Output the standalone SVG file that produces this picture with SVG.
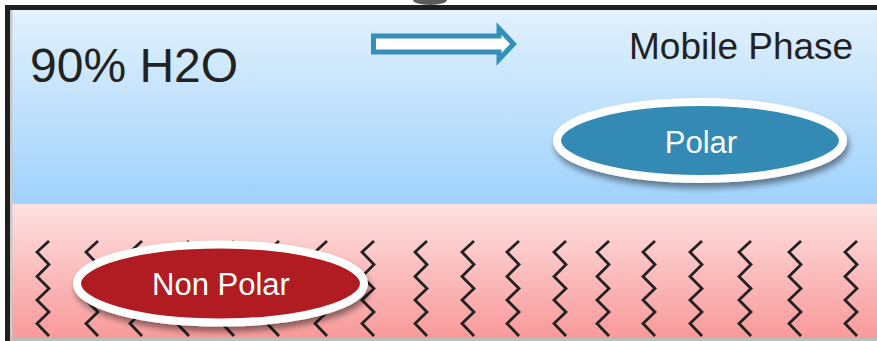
<svg xmlns="http://www.w3.org/2000/svg" width="877" height="341" viewBox="0 0 877 341">
  <defs>
    <linearGradient id="gBlue" x1="0" y1="0" x2="0" y2="1">
      <stop offset="0" stop-color="#e2f1fd"/>
      <stop offset="1" stop-color="#9fd2fc"/>
    </linearGradient>
    <linearGradient id="gPink" x1="0" y1="0" x2="0" y2="1">
      <stop offset="0" stop-color="#fde1e1"/>
      <stop offset="1" stop-color="#f99a9a"/>
    </linearGradient>
    <filter id="shadow" x="-20%" y="-30%" width="140%" height="170%">
      <feGaussianBlur in="SourceAlpha" stdDeviation="3"/>
      <feOffset dx="2" dy="5" result="b"/>
      <feComponentTransfer><feFuncA type="linear" slope="0.45"/></feComponentTransfer>
      <feMerge><feMergeNode/><feMergeNode in="SourceGraphic"/></feMerge>
    </filter>
    <path id="zz" d="M12,241 L0,252 L12,264.5 L0,276.5 L12,288.5 L0,300 L12,312 L0,323.5 L12,336"/>
  </defs>
  <style>
    .txt { font-family: "Liberation Sans", Arial, sans-serif; fill: #222; }
    .lbl { font-family: "Liberation Sans", Arial, sans-serif; fill: #fff; font-size: 31px; text-anchor: middle; }
    .zig { fill: none; stroke: #222; stroke-width: 2.8; stroke-linejoin: miter; }
    .ell { stroke: #fff; stroke-width: 8; }
  </style>

  <rect x="0" y="0" width="877" height="341" fill="#fff"/>
  <ellipse cx="430" cy="0" rx="17" ry="5" fill="#5a5a5a"/>

  <!-- phases -->
  <rect x="10" y="10" width="867" height="194" fill="url(#gBlue)"/>
  <rect x="10" y="204" width="867" height="134" fill="url(#gPink)"/>
  <rect x="10" y="10" width="2.5" height="328" fill="#c9c9c9"/>
  <rect x="5" y="338" width="872" height="3" fill="#bdbdbd"/>
  <rect x="5" y="5" width="872" height="5" fill="#1f1f1f"/>
  <rect x="5" y="5" width="5" height="336" fill="#1f1f1f"/>

  <g id="label-h2o"><text class="txt" x="30" y="82" font-size="48">90% H2O</text></g>
  <g id="label-mobile"><text class="txt" x="629" y="59" font-size="37">Mobile Phase</text></g>

  <g id="flow-arrow">
    <path d="M373.5,36 H499 V28.5 L513.5,44 L499,59.5 V52 H373.5 Z" fill="#fff" stroke="#3390bb" stroke-width="5" stroke-linejoin="miter"/>
  </g>

  <g id="chains">
    <use href="#zz" class="zig" x="37"/>
    <use href="#zz" class="zig" x="86"/>
    <use href="#zz" class="zig" x="130"/>
    <use href="#zz" class="zig" x="177"/>
    <use href="#zz" class="zig" x="222"/>
    <use href="#zz" class="zig" x="267"/>
    <use href="#zz" class="zig" x="315"/>
    <use href="#zz" class="zig" x="362"/>
    <use href="#zz" class="zig" x="415"/>
    <use href="#zz" class="zig" x="462"/>
    <use href="#zz" class="zig" x="507"/>
    <use href="#zz" class="zig" x="554"/>
    <use href="#zz" class="zig" x="597"/>
    <use href="#zz" class="zig" x="643"/>
    <use href="#zz" class="zig" x="690"/>
    <use href="#zz" class="zig" x="739"/>
    <use href="#zz" class="zig" x="789"/>
    <use href="#zz" class="zig" x="845"/>
  </g>

  <g id="polar">
    <ellipse class="ell" cx="700" cy="140.5" rx="143" ry="38.5" fill="#328ab5" filter="url(#shadow)"/>
    <text class="lbl" x="701" y="152.5">Polar</text>
  </g>

  <g id="non-polar">
    <ellipse class="ell" cx="220.5" cy="283.5" rx="143.5" ry="39" fill="#b01d24" filter="url(#shadow)"/>
    <text class="lbl" x="221" y="295">Non Polar</text>
  </g>
</svg>
